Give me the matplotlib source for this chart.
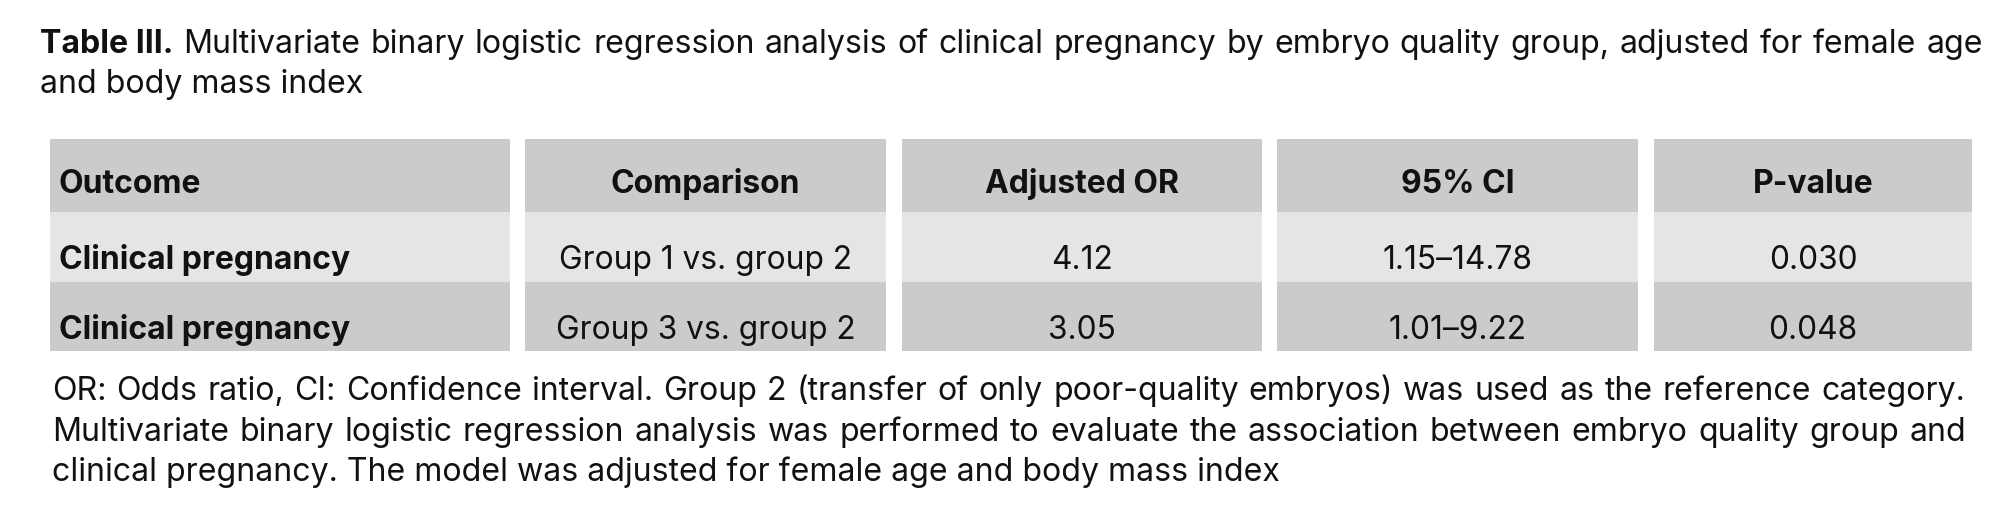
import matplotlib
matplotlib.use("Agg")
import matplotlib.pyplot as plt

plt.rcParams["font.family"] = ["Inter", "DejaVu Sans"]

# table content
headers = ["Outcome", "Comparison", "Adjusted OR", "95% CI", "P-value"]
outcomes = ["Clinical pregnancy", "Clinical pregnancy"]
comparisons = ["Group 1 vs. group 2", "Group 3 vs. group 2"]
adjusted_or = ["4.12", "3.05"]
ci_95 = ["1.15\u201314.78", "1.01\u20139.22"]
p_values = ["0.030", "0.048"]

title_bold = "Table III."
title_lines = [
    "Multivariate binary logistic regression analysis of clinical pregnancy by embryo quality group, adjusted for female age",
    "and body mass index",
]
foot_lines = [
    "OR: Odds ratio, CI: Confidence interval. Group 2 (transfer of only poor-quality embryos) was used as the reference category.",
    "Multivariate binary logistic regression analysis was performed to evaluate the association between embryo quality group and",
    "clinical pregnancy. The model was adjusted for female age and body mass index",
]

W, H = 2000, 509
fig = plt.figure(figsize=(W / 100, H / 100), dpi=100)
ax = fig.add_axes([0, 0, 1, 1])
ax.set_xlim(0, W)
ax.set_ylim(H, 0)
ax.axis("off")
renderer = fig.canvas.get_renderer()

def width(t):
    return t.get_window_extent(renderer).width

def put(x, y, s, size, weight="normal", ha="left"):
    return ax.text(x, y, s, fontsize=size, fontweight=weight, ha=ha,
                   va="baseline", color="#111111")

def fit(s, target, weight="normal"):
    # font size that makes s about target pixels wide
    t = put(0, 0, s, 20, weight)
    size = 20 * target / width(t)
    t.remove()
    return size

def justify(x0, x1, y, s, size, first=None):
    words = s.split(" ")
    items = []
    if first is not None:
        items.append(put(x0, y, first, size, "bold"))
    items += [put(x0, y, w, size) for w in words]
    widths = [width(t) for t in items]
    gap = (x1 - x0 - sum(widths)) / (len(items) - 1)
    x = x0
    for t, w in zip(items, widths):
        t.set_x(x)
        x += w + gap

# title
ts = fit(title_lines[1], 323)
justify(40, 1983, 53, title_lines[0], ts, first=title_bold)
put(40, 93, title_lines[1], ts)

# table geometry
col_x = [(50, 510), (525, 886), (902, 1262), (1277, 1638), (1654, 1972)]
row_y = [139, 212, 282, 351]
row_colors = ["#cbcbcb", "#e5e5e5", "#cbcbcb"]
body = [outcomes, comparisons, adjusted_or, ci_95, p_values]

head_size = fit("Comparison", 190, "bold")
row_bold_size = fit("Clinical pregnancy", 292, "bold")
cell_size = fit("Group 1 vs. group 2", 293)

for c, (x0, x1) in enumerate(col_x):
    for r in range(3):
        ax.add_patch(plt.Rectangle((x0, row_y[r]), x1 - x0, row_y[r + 1] - row_y[r],
                                   facecolor=row_colors[r], edgecolor="none"))
    cells = [headers[c]] + body[c]
    for r, s in enumerate(cells):
        base = row_y[r] + (54 if r == 0 else 57)
        if r == 0:
            size, wt = head_size, "bold"
        elif c == 0:
            size, wt = row_bold_size, "bold"
        else:
            size, wt = cell_size, "normal"
        if c == 0:
            put(x0 + 9, base, s, size, wt)
        else:
            put((x0 + x1) / 2, base, s, size, wt, ha="center")

# footnote
fs = fit(foot_lines[2], 1227)
justify(52, 1965, 400, foot_lines[0], fs)
justify(52, 1966, 441, foot_lines[1], fs)
put(52, 481, foot_lines[2], fs)

fig.savefig("out.png", dpi=100, facecolor="white")
